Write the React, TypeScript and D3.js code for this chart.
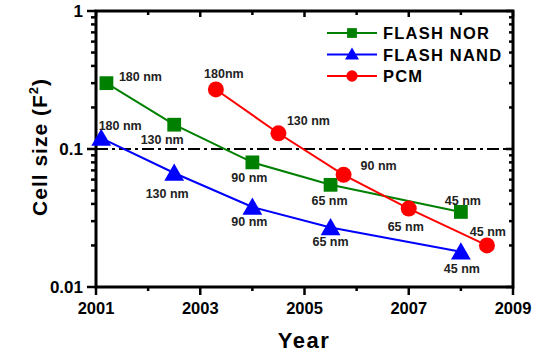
import React, { useEffect, useRef } from 'react';
import * as d3 from 'd3';

// series values
const norYears = [2001.2, 2002.5, 2004.0, 2005.5, 2008.0];
const norCell = [0.3, 0.15, 0.08, 0.055, 0.035];
const norLabels = ['180 nm', '130 nm', '90 nm', '65 nm', '45 nm'];

const nandYears = [2001.1, 2002.5, 2004.0, 2005.5, 2008.0];
const nandCell = [0.12, 0.067, 0.038, 0.027, 0.018];
const nandLabels = ['180 nm', '130 nm', '90 nm', '65 nm', '45 nm'];

const pcmYears = [2003.3, 2004.5, 2005.75, 2007.0, 2008.5];
const pcmCell = [0.27, 0.13, 0.065, 0.037, 0.02];
const pcmLabels = ['180nm', '130 nm', '90 nm', '65 nm', '45 nm'];

const xTickYears = [2001, 2003, 2005, 2007, 2009];
const yTickValues = [1, 0.1, 0.01];
const yTickLabels = ['1', '0.1', '0.01'];
const referenceLine = 0.1;

// label offsets from each point (layout only)
const norOffsets = [[34, -7], [-12, 15], [-3, 15], [-1, 16], [2, -11]];
const nandOffsets = [[19, -13], [-7, 20], [-3, 15], [0, 14], [1, 17]];
const pcmOffsets = [[8, -16], [30, -13], [35, -9], [-3, 18], [1, -14]];

const FONT = "'Liberation Sans', Arial, sans-serif";

const App = () => {
  const svgRef = useRef(null);

  useEffect(() => {
    if (!svgRef.current) return;
    document.body.style.margin = '0';
    d3.select(svgRef.current).selectAll('*').remove();

    const width = 538;
    const height = 353;
    const margin = { top: 11, right: 25, bottom: 66, left: 96 };
    const innerWidth = width - margin.left - margin.right;
    const innerHeight = height - margin.top - margin.bottom;

    const svg = d3.select(svgRef.current)
      .attr('width', width)
      .attr('height', height)
      .style('display', 'block');

    svg.append('rect').attr('width', width).attr('height', height).attr('fill', '#fff');

    const g = svg.append('g').attr('transform', `translate(${margin.left}, ${margin.top})`);

    const x = d3.scaleLinear().domain([2001, 2009]).range([0, innerWidth]);
    const y = d3.scaleLog().domain([0.01, 1]).range([innerHeight, 0]);

    const allYears = d3.range(2001, 2010);
    const minorY = [];
    [0.01, 0.1].forEach(d => { for (let k = 2; k <= 9; k++) minorY.push(d * k); });

    const tickStyle = sel => sel.attr('stroke', '#000').attr('stroke-width', 2.5);

    // bottom ticks (outward)
    allYears.forEach(yr => {
      const major = xTickYears.includes(yr);
      g.append('line').call(tickStyle)
        .attr('x1', x(yr)).attr('x2', x(yr))
        .attr('y1', innerHeight).attr('y2', innerHeight + (major ? 8 : 4));
      // top ticks (inward)
      g.append('line').call(tickStyle)
        .attr('x1', x(yr)).attr('x2', x(yr))
        .attr('y1', 0).attr('y2', major ? 6 : 4);
    });

    // left ticks (outward) and right ticks (inward)
    yTickValues.forEach(v => {
      g.append('line').call(tickStyle)
        .attr('x1', -9).attr('x2', 0).attr('y1', y(v)).attr('y2', y(v));
      g.append('line').call(tickStyle)
        .attr('x1', innerWidth - 7).attr('x2', innerWidth).attr('y1', y(v)).attr('y2', y(v));
    });
    minorY.forEach(v => {
      g.append('line').call(tickStyle)
        .attr('x1', -5).attr('x2', 0).attr('y1', y(v)).attr('y2', y(v));
      g.append('line').call(tickStyle)
        .attr('x1', innerWidth - 4).attr('x2', innerWidth).attr('y1', y(v)).attr('y2', y(v));
    });

    // frame
    g.append('rect')
      .attr('width', innerWidth).attr('height', innerHeight)
      .attr('fill', 'none').attr('stroke', '#000').attr('stroke-width', 3);

    // tick labels
    g.selectAll('.xlab').data(xTickYears).enter().append('text')
      .attr('x', d => x(d)).attr('y', innerHeight + 27)
      .attr('text-anchor', 'middle')
      .attr('font-family', FONT).attr('font-weight', 'bold').attr('font-size', '16.5px')
      .text(d => d);

    g.selectAll('.ylab').data(yTickValues).enter().append('text')
      .attr('x', -13).attr('y', d => y(d) + 6)
      .attr('text-anchor', 'end')
      .attr('font-family', FONT).attr('font-weight', 'bold').attr('font-size', '17px')
      .text((d, i) => yTickLabels[i]);

    // axis titles
    svg.append('text')
      .attr('x', 304).attr('y', 348)
      .attr('text-anchor', 'middle')
      .attr('font-family', FONT).attr('font-weight', 'bold').attr('font-size', '22px')
      .attr('letter-spacing', '1.5px')
      .text('Year');

    const yTitle = svg.append('text')
      .attr('transform', 'translate(47, 147) rotate(-90)')
      .attr('text-anchor', 'middle')
      .attr('font-family', FONT).attr('font-weight', 'bold').attr('font-size', '21px')
      .attr('letter-spacing', '1px');
    yTitle.append('tspan').text('Cell size (F');
    yTitle.append('tspan').attr('dy', -9).attr('font-size', '13px').text('2');
    yTitle.append('tspan').attr('dy', 9).text(')');

    // dash-dot reference line
    g.append('line')
      .attr('x1', 0).attr('x2', innerWidth)
      .attr('y1', y(referenceLine)).attr('y2', y(referenceLine))
      .attr('stroke', '#000').attr('stroke-width', 2)
      .attr('stroke-dasharray', '12,4,3,4');

    const series = [
      { name: 'FLASH NOR', color: '#008000', years: norYears, values: norCell, labels: norLabels, offsets: norOffsets, symbol: d3.symbolSquare, size: 190 },
      { name: 'FLASH NAND', color: '#0000ff', years: nandYears, values: nandCell, labels: nandLabels, offsets: nandOffsets, symbol: d3.symbolTriangle, size: 170 },
      { name: 'PCM', color: '#ff0000', years: pcmYears, values: pcmCell, labels: pcmLabels, offsets: pcmOffsets, symbol: d3.symbolCircle, size: 200 }
    ];

    const line = d3.line().x(d => x(d[0])).y(d => y(d[1]));

    series.forEach(s => {
      const pts = s.years.map((yr, i) => [yr, s.values[i]]);
      g.append('path')
        .attr('d', line(pts))
        .attr('fill', 'none').attr('stroke', s.color).attr('stroke-width', 2);
      g.selectAll(null).data(pts).enter().append('path')
        .attr('transform', d => `translate(${x(d[0])}, ${y(d[1]) + (s.symbol === d3.symbolTriangle ? 2 : 0)})`)
        .attr('d', d3.symbol(s.symbol, s.size)())
        .attr('fill', s.color);
      g.selectAll(null).data(pts).enter().append('text')
        .attr('x', (d, i) => x(d[0]) + s.offsets[i][0])
        .attr('y', (d, i) => y(d[1]) + s.offsets[i][1] + 4.5)
        .attr('text-anchor', 'middle')
        .attr('font-family', FONT).attr('font-weight', 'bold').attr('font-size', '12.5px')
        .attr('fill', '#222')
        .text((d, i) => s.labels[i]);
    });

    // legend
    const legend = svg.append('g').attr('transform', 'translate(327, 33)');
    series.forEach((s, i) => {
      const row = legend.append('g').attr('transform', `translate(0, ${i * 21.5})`);
      row.append('line').attr('x1', 0).attr('x2', 50).attr('y1', 0).attr('y2', 0)
        .attr('stroke', s.color).attr('stroke-width', 2);
      row.append('path')
        .attr('transform', `translate(25, ${s.symbol === d3.symbolTriangle ? 1 : 0})`)
        .attr('d', d3.symbol(s.symbol, s.size * 0.5)())
        .attr('fill', s.color);
      row.append('text')
        .attr('x', 56).attr('y', 6)
        .attr('font-family', FONT).attr('font-weight', 'bold').attr('font-size', '16.5px')
        .attr('letter-spacing', '1.2px')
        .text(s.name);
    });
  }, []);

  return <svg ref={svgRef}></svg>;
};

export default App;
